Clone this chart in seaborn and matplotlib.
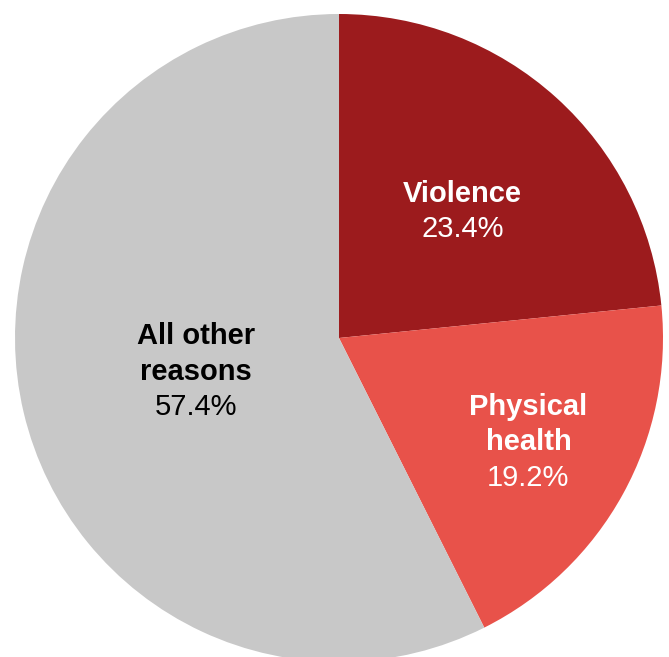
import matplotlib
matplotlib.use("Agg")
import matplotlib.pyplot as plt
import seaborn as sns
import numpy as np

sns.set_theme(style="white")
plt.rcParams["font.family"] = ["Liberation Sans", "DejaVu Sans"]

# Share of cases by reason
categories = ["Violence", "Physical\nhealth", "All other\nreasons"]
shares = [23.4, 19.2, 57.4]
colors = ["#9C1B1D", "#E8524A", "#C8C8C8"]
text_colors = ["white", "white", "black"]
label_radius = [0.545, 0.667, 0.454]
label_turn = [-2.2, 0.0, 0.0]  # small angular nudges for label placement (deg)

W, H, DPI = 669, 657, 100
fig = plt.figure(figsize=(W / DPI, H / DPI), dpi=DPI)
ax = fig.add_axes([0, 0, 1, 1])

wedges, _ = ax.pie(
    shares, colors=colors, startangle=90, counterclock=False,
    radius=1.0, center=(0, 0), wedgeprops=dict(linewidth=0),
)

# pixel geometry of the circle within the canvas
cx, cy, rad = 339, 338, 324
ax.set_aspect("auto")
ax.set_xlim(-cx / rad, (W - cx) / rad)
ax.set_ylim(-(H - cy) / rad, cy / rad)
ax.axis("off")

line_h = 35.5 * 72 / DPI  # line spacing in points
for w, name, val, tc, r, turn in zip(wedges, categories, shares, text_colors,
                                     label_radius, label_turn):
    mid = np.deg2rad((w.theta1 + w.theta2) / 2 + turn)
    x, y = r * np.cos(mid), r * np.sin(mid)
    lines = name.split("\n")
    n = len(lines)
    for i, ln in enumerate(lines):
        ax.annotate(ln, (x, y), xytext=(0, (n / 2 - i) * line_h),
                    textcoords="offset points", ha="center", va="center",
                    fontsize=21, fontweight="bold", color=tc)
    ax.annotate(f"{val:.1f}%", (x, y), xytext=(0, (n / 2 - n) * line_h),
                textcoords="offset points", ha="center", va="center",
                fontsize=21, color=tc)

fig.savefig("out.png", dpi=DPI, facecolor="white")
